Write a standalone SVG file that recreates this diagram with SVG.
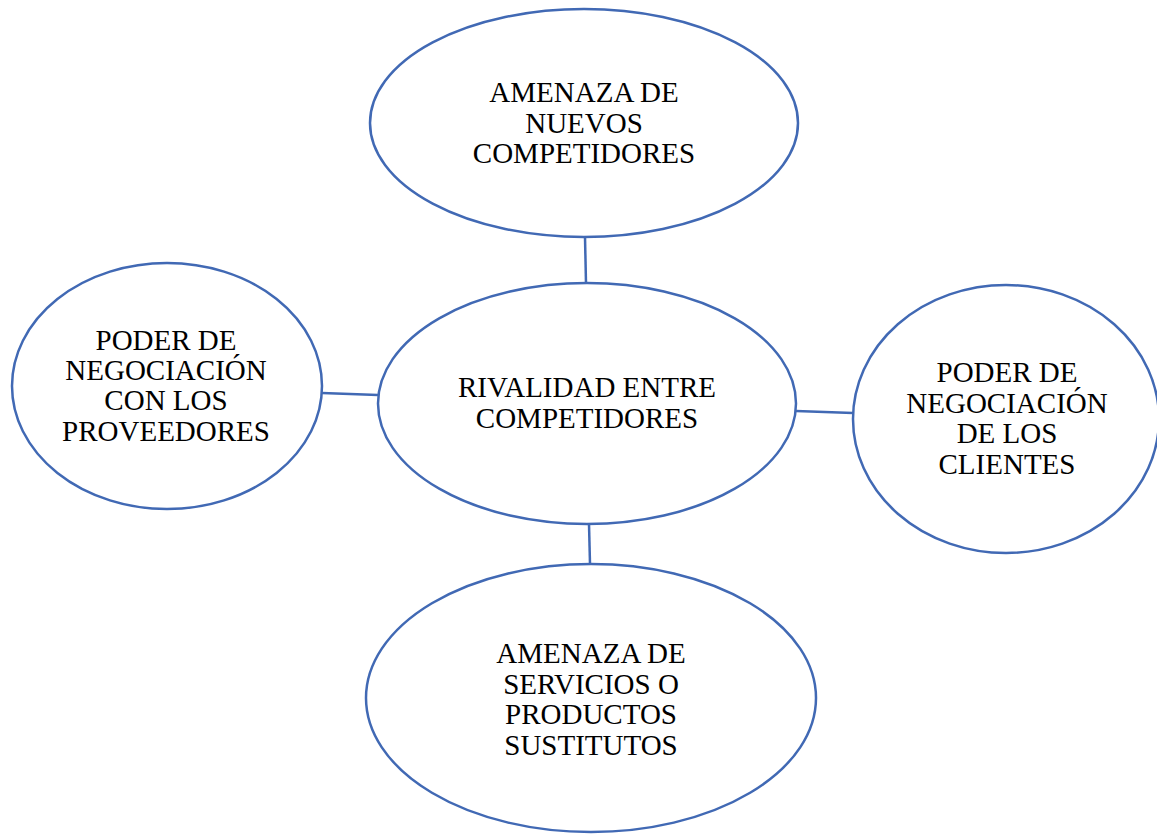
<svg xmlns="http://www.w3.org/2000/svg" width="1157" height="834" viewBox="0 0 1157 834">
<style>
.n{fill:#fff;stroke:#4169B4;stroke-width:2.5}
.c{stroke:#4169B4;stroke-width:2.5;fill:none}
text{font-family:"Liberation Serif","Times New Roman",serif;font-size:29px;fill:#000;text-anchor:middle}
</style>
<rect width="1157" height="834" fill="#fff"/>
<g id="connectors">
<line class="c" x1="585" y1="237" x2="586" y2="283"/>
<line class="c" x1="322" y1="393" x2="378" y2="395"/>
<line class="c" x1="796" y1="411" x2="853" y2="413"/>
<line class="c" x1="589" y1="524" x2="590" y2="564"/>
</g>
<g id="top">
<ellipse class="n" cx="584" cy="123" rx="214" ry="114"/>
<text x="584" y="102">AMENAZA DE</text>
<text x="584" y="133">NUEVOS</text>
<text x="584" y="163">COMPETIDORES</text>
</g>
<g id="center">
<ellipse class="n" cx="587" cy="403.5" rx="209" ry="120.5"/>
<text x="587" y="397">RIVALIDAD ENTRE</text>
<text x="587" y="428">COMPETIDORES</text>
</g>
<g id="left">
<ellipse class="n" cx="167" cy="386" rx="155" ry="123"/>
<text x="166" y="350">PODER DE</text>
<text x="166" y="380">NEGOCIACIÓN</text>
<text x="166" y="410">CON LOS</text>
<text x="166" y="441">PROVEEDORES</text>
</g>
<g id="right">
<ellipse class="n" cx="1006" cy="419" rx="153" ry="134"/>
<text x="1007" y="382">PODER DE</text>
<text x="1007" y="413">NEGOCIACIÓN</text>
<text x="1007" y="443">DE LOS</text>
<text x="1007" y="474">CLIENTES</text>
</g>
<g id="bottom">
<ellipse class="n" cx="591" cy="698" rx="225" ry="134"/>
<text x="591" y="663">AMENAZA DE</text>
<text x="591" y="694">SERVICIOS O</text>
<text x="591" y="724">PRODUCTOS</text>
<text x="591" y="755">SUSTITUTOS</text>
</g>
</svg>
